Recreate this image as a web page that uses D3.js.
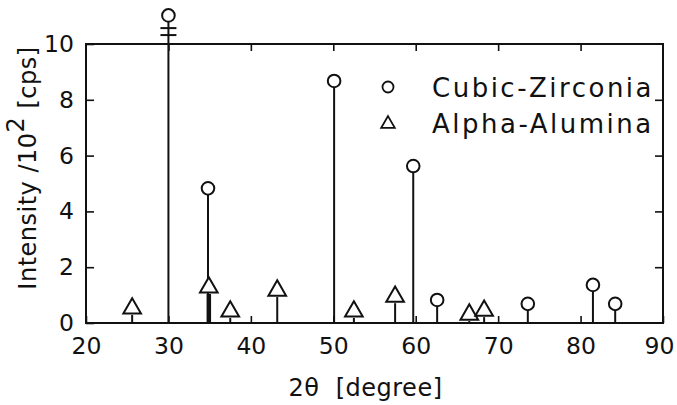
<!DOCTYPE html>
<html>
<head>
<meta charset="utf-8">
<script src="https://cdn.jsdelivr.net/npm/d3@7"></script>
<style>
  body { margin: 0; background: #fff; }
  svg text { font-family: "DejaVu Sans", sans-serif; fill: #111; }
</style>
</head>
<body>
<div id="chart"></div>
<script>
// peak positions (2theta) and intensities (x100 cps)
var zirconiaAngles = [30.0, 34.8, 50.1, 59.7, 62.6, 73.6, 81.5, 84.2];
var zirconiaValues = [10.8, 4.6, 8.45, 5.4, 0.6, 0.46, 1.14, 0.46];
var aluminaAngles = [25.6, 34.9, 37.5, 43.2, 52.5, 57.5, 66.5, 68.3];
var aluminaValues = [0.29, 1.04, 0.18, 0.93, 0.18, 0.71, 0.07, 0.21];
var xTicks = [20, 30, 40, 50, 60, 70, 80, 90];
var yTicks = [0, 2, 4, 6, 8, 10];
var legendLabels = ["Cubic-Zirconia", "Alpha-Alumina"];

var width = 677, height = 405;
var plotLeft = 86, plotRight = 663, plotTop = 44, plotBottom = 323;
var ink = "#111";

var svg = d3.select("#chart").append("svg")
	.attr("width", width)
	.attr("height", height);

var x = d3.scaleLinear().domain([20, 90]).range([plotLeft, plotRight]);
var y = d3.scaleLinear().domain([0, 10]).range([plotBottom, plotTop]);

// frame
svg.append("rect")
	.attr("x", plotLeft)
	.attr("y", plotTop)
	.attr("width", plotRight - plotLeft)
	.attr("height", plotBottom - plotTop)
	.attr("fill", "none")
	.attr("stroke", ink)
	.attr("stroke-width", 2);

function styleAxis(g){
	g.attr("font-size", null).attr("font-family", null);
	g.select(".domain").remove();
	g.selectAll(".tick line").attr("stroke", ink).attr("stroke-width", 1.6);
	g.selectAll(".tick text")
		.attr("fill", ink)
		.style("font-size", "23.5px");
}

var xAxisG = svg.append("g")
	.attr("transform", "translate(0," + plotBottom + ")")
	.call(d3.axisBottom(x).tickValues(xTicks).tickSize(-7).tickPadding(14).tickFormat(d3.format("d")))
	.call(styleAxis);
// keep the last label inside the page
xAxisG.selectAll(".tick text").filter(function(d){ return d == 90; }).attr("dx", -4);

svg.append("g")
	.attr("transform", "translate(0," + plotTop + ")")
	.call(d3.axisTop(x).tickValues(xTicks.slice(1, -1)).tickSize(-7).tickFormat(""))
	.call(styleAxis);
svg.append("g")
	.attr("transform", "translate(" + plotLeft + ",0)")
	.call(d3.axisLeft(y).tickValues(yTicks).tickSize(-8).tickPadding(12).tickFormat(d3.format("d")))
	.call(styleAxis);
svg.append("g")
	.attr("transform", "translate(" + plotRight + ",0)")
	.call(d3.axisRight(y).tickValues(yTicks.slice(1, -1)).tickSize(-8).tickFormat(""))
	.call(styleAxis);

var zirconia = zirconiaAngles.map(function(a, i){ return {angle: a, value: zirconiaValues[i]}; });
var alumina = aluminaAngles.map(function(a, i){ return {angle: a, value: aluminaValues[i]}; });

var r = 6.3;
var tri = d3.symbol().type(d3.symbolTriangle).size(135);

// stems
svg.selectAll(".stem-z")
	.data(zirconia)
	.enter().append("line")
	.attr("class", "stem-z")
	.attr("x1", function(d){ return x(d.angle); })
	.attr("x2", function(d){ return x(d.angle); })
	.attr("y1", y(0))
	.attr("y2", function(d){ return y(d.value); })
	.attr("stroke", ink)
	.attr("stroke-width", 2);

svg.selectAll(".stem-a")
	.data(alumina)
	.enter().append("line")
	.attr("class", "stem-a")
	.attr("x1", function(d){ return x(d.angle); })
	.attr("x2", function(d){ return x(d.angle); })
	.attr("y1", y(0))
	.attr("y2", function(d){ return y(d.value); })
	.attr("stroke", ink)
	.attr("stroke-width", function(d, i){ return i == 1 ? 4.5 : 2; });

// break marks on the off-scale 30 degree peak
svg.selectAll(".break")
	.data([10.32, 10.57])
	.enter().append("line")
	.attr("class", "break")
	.attr("x1", x(zirconia[0].angle) - 8)
	.attr("x2", x(zirconia[0].angle) + 8)
	.attr("y1", function(d){ return y(d); })
	.attr("y2", function(d){ return y(d); })
	.attr("stroke", ink)
	.attr("stroke-width", 2);

// markers
svg.selectAll(".dot")
	.data(zirconia)
	.enter().append("circle")
	.attr("class", "dot")
	.attr("cx", function(d){ return x(d.angle); })
	.attr("cy", function(d){ return y(d.value) - r; })
	.attr("r", r)
	.attr("fill", "#fff")
	.attr("stroke", ink)
	.attr("stroke-width", 2);

svg.selectAll(".tri")
	.data(alumina)
	.enter().append("path")
	.attr("class", "tri")
	.attr("d", tri)
	.attr("transform", function(d){ return "translate(" + x(d.angle) + "," + (y(d.value) - 6.5) + ")"; })
	.attr("fill", "#fff")
	.attr("stroke", ink)
	.attr("stroke-width", 2);

// legend
var legend = svg.append("g").attr("transform", "translate(388,87)");
legend.append("circle")
	.attr("cx", 0).attr("cy", 0).attr("r", 5.5)
	.attr("fill", "none").attr("stroke", ink).attr("stroke-width", 1.8);
legend.append("path")
	.attr("d", d3.symbol().type(d3.symbolTriangle).size(80))
	.attr("transform", "translate(0,37)")
	.attr("fill", "none").attr("stroke", ink).attr("stroke-width", 1.8);
legend.selectAll("text")
	.data(legendLabels)
	.enter().append("text")
	.attr("x", 44)
	.attr("y", function(d, i){ return 10 + i * 36; })
	.style("font-size", "26px")
	.style("letter-spacing", "2.5px")
	.text(function(d){ return d; });

// axis titles
svg.append("text")
	.attr("x", (plotLeft + plotRight) / 2 - 9)
	.attr("y", 396)
	.attr("text-anchor", "middle")
	.style("font-size", "24px")
	.style("letter-spacing", "0.5px")
	.style("white-space", "pre")
	.text("2θ  [degree]");

var yt = svg.append("text")
	.attr("transform", "translate(36,168) rotate(-90)")
	.attr("text-anchor", "middle")
	.style("font-size", "24px")
	.style("letter-spacing", "0.5px")
	.style("white-space", "pre");
yt.append("tspan").text("Intensity /10");
yt.append("tspan").attr("dy", -12).text("2");
yt.append("tspan").attr("dy", 12).text(" [cps]");
</script>
</body>
</html>
